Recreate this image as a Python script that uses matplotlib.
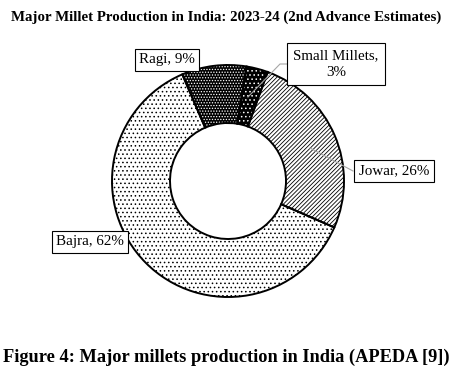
import matplotlib.pyplot as plt
import matplotlib as mpl

# data (clockwise from ~20 deg past the top)
crops = ["Jowar", "Bajra", "Ragi", "Small Millets"]
shares = [26, 62, 9, 3]
labels = ["Jowar, 26%", "Bajra, 62%", "Ragi, 9%", "Small Millets,\n3%"]

faces = ["white", "white", "black", "black"]
hatch_cols = ["black", "black", "white", "white"]
hatches = ["////////", "....", "......", "...."]

mpl.rcParams["hatch.linewidth"] = 0.6
mpl.rcParams["font.family"] = ["Liberation Serif", "DejaVu Serif"]

W, H = 453, 377
cx, cy, r = 228, 181, 116
fig = plt.figure(figsize=(W / 100, H / 100), dpi=100)
ax = fig.add_axes([(cx - r) / W, (H - cy - r) / H, 2 * r / W, 2 * r / H])

# fill + hatch layer
w1, _ = ax.pie(shares, startangle=70, counterclock=False, radius=1,
               colors=faces, wedgeprops=dict(width=0.5, linewidth=0))
for w, hc, h in zip(w1, hatch_cols, hatches):
    w.set_edgecolor(hc)
    w.set_hatch(h)
    w.set_linewidth(0)

# outline layer
w2, _ = ax.pie(shares, startangle=70, counterclock=False, radius=1,
               wedgeprops=dict(width=0.5, fill=False, edgecolor="black", linewidth=1.4))

ax.set_xlim(-1, 1)
ax.set_ylim(-1, 1)
ax.set_aspect("auto")
ax.axis("off")

def px(x, y):
    return ((x - cx) / r, (cy - y) / r)

pos = {"Jowar": (394, 171), "Bajra": (90, 242), "Ragi": (167, 60), "Small Millets": (336, 64)}
pads = {"Jowar": 0.3, "Bajra": 0.3, "Ragi": 0.3, "Small Millets": 0.4}
for c, lab in zip(crops, labels):
    x, y = px(*pos[c])
    box = dict(boxstyle="square,pad=%s" % pads[c], fc="white", ec="black", lw=0.8)
    ax.text(x, y, lab, ha="center", va="center", fontsize=10.8, bbox=box,
            clip_on=False, zorder=5, linespacing=1.35)

# leader lines
for pts in [[(248, 97), (280, 64), (287, 64)], [(310, 148), (353, 171)]]:
    xs = [px(*p)[0] for p in pts]
    ys = [px(*p)[1] for p in pts]
    ax.plot(xs, ys, color="#a6a6a6", lw=0.8, clip_on=False, zorder=4)

fig.text(0.5, 1 - 17 / H, "Major Millet Production in India: 2023-24 (2nd Advance Estimates)",
         ha="center", va="center", fontsize=10.7, fontweight="bold")
fig.text(0.5, 1 - 357 / H, "Figure 4: Major millets production in India (APEDA [9])",
         ha="center", va="center", fontsize=13.2, fontweight="bold")

fig.savefig("out.png", dpi=100)
